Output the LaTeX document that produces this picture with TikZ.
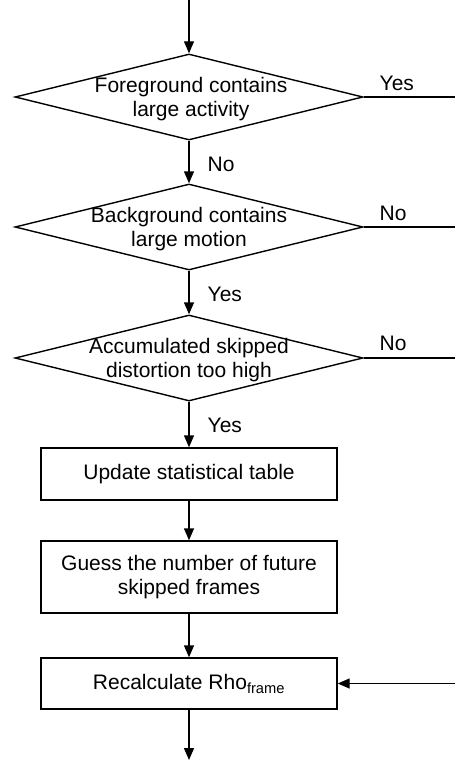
\documentclass[tikz,border=0pt]{standalone}
\usepackage{fontspec}
\setmainfont{Liberation Sans}
\usetikzlibrary{shapes.geometric,arrows.meta}
\begin{document}
\begin{tikzpicture}[x=1pt,y=-1pt,
  line width=1.4pt,
  flow/.style={-{Triangle[length=12pt,width=10pt]}},
  decision/.style={draw,diamond,inner sep=0pt,minimum width=348pt,minimum height=86pt},
  process/.style={draw,rectangle,inner sep=0pt,minimum width=296pt},
  lbl/.style={font=\fontsize{21}{24}\selectfont,align=center,inner sep=0pt},
  tag/.style={lbl,anchor=west}]
\useasboundingbox (0,0) rectangle (455,760);

% decisions
\node[decision] (d1) at (189,97) {};
\node[lbl] (d1t) at (191,99) {Foreground contains\\large activity};
\node[decision] (d2) at (189,227) {};
\node[lbl] (d2t) at (189,229) {Background contains\\large motion};
\node[decision] (d3) at (189,358) {};
\node[lbl] (d3t) at (189,360) {Accumulated skipped\\distortion too high};

% processing steps
\node[process,minimum height=52pt] (b1) at (189,474) {};
\node[lbl] (b1t) at (189,474) {Update statistical table};
\node[process,minimum height=72pt] (b2) at (189,577) {};
\node[lbl] (b2t) at (189,577) {Guess the number of future\\skipped frames};
\node[process,minimum height=51pt] (b3) at (189,683.5) {};
\node[lbl] (b3t) at (189,684) {Recalculate Rho\textsubscript{frame}};

% loose ends
\coordinate (in) at (189,0);
\coordinate (out) at (189,760);
\coordinate (e1) at (455,97);
\coordinate (e2) at (455,227);
\coordinate (e3) at (455,358);
\coordinate (e4) at (455,683.5);

% main flow
\draw[flow] (in) -- (d1.north);
\draw[flow] (d1.south) -- (d2.north);
\draw[flow] (d2.south) -- (d3.north);
\draw[flow] (d3.south) -- (b1.north);
\draw[flow] (b1.south) -- (b2.north);
\draw[flow] (b2.south) -- (b3.north);
\draw[flow] (b3.south) -- (out);

% side branches
\draw (d1.east) -- (e1);
\draw (d2.east) -- (e2);
\draw (d3.east) -- (e3);
\draw[flow] (e4) -- (b3.east);

% branch labels
\node[tag] (l1) at (379,83) {Yes};
\node[tag] (l2) at (207,164) {No};
\node[tag] (l3) at (379,213) {No};
\node[tag] (l4) at (207,294) {Yes};
\node[tag] (l5) at (379,343) {No};
\node[tag] (l6) at (207,425) {Yes};
\end{tikzpicture}
\end{document}
